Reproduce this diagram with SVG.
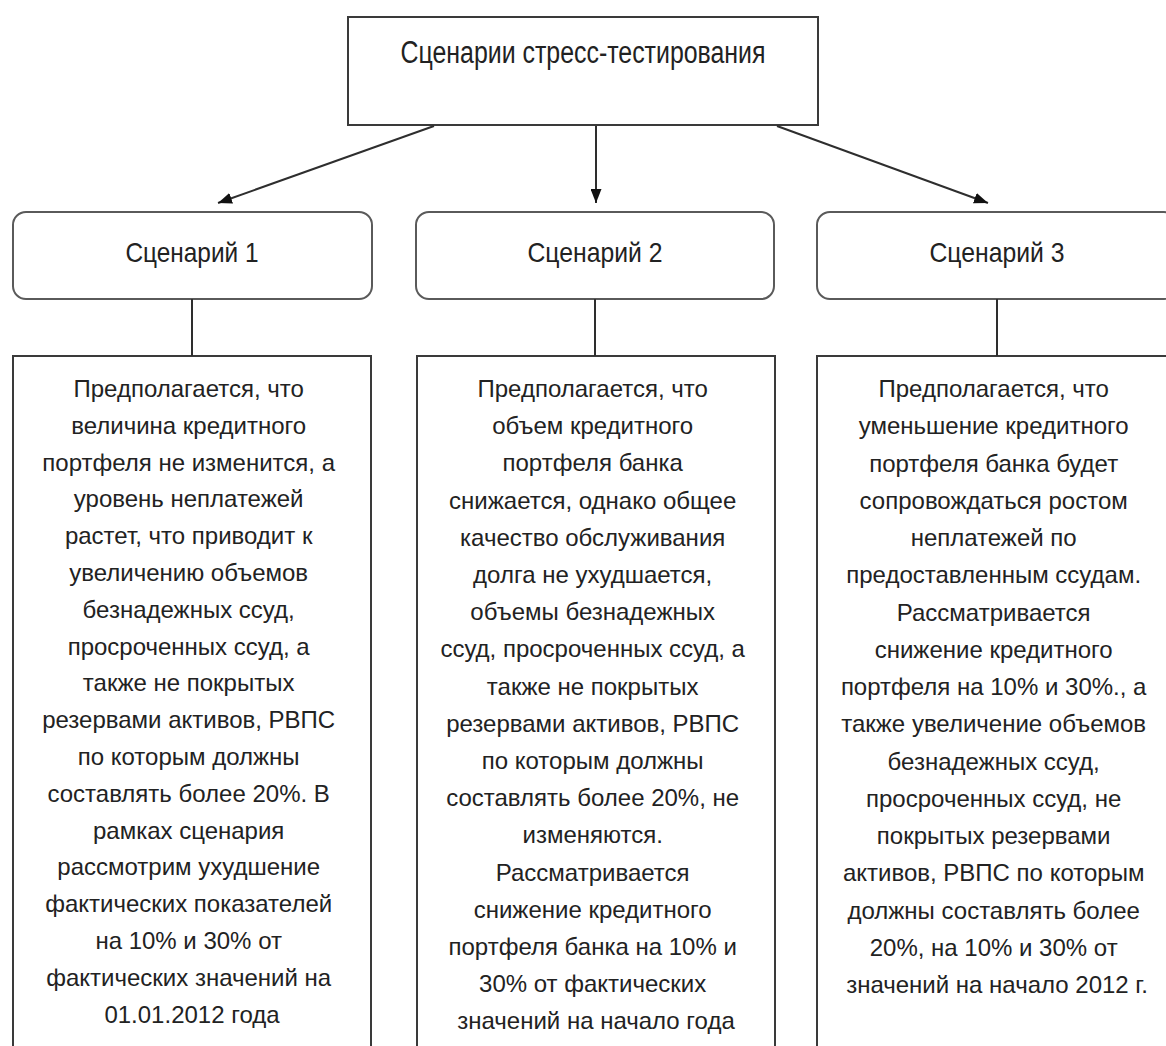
<svg xmlns="http://www.w3.org/2000/svg" width="1166" height="1046" viewBox="0 0 1166 1046">
<style>
.box{fill:#fff;stroke:#3a3a3a;stroke-width:2}
.hdr{fill:#fff;stroke:#5a5a5a;stroke-width:2}
.t{font-family:"Liberation Sans",Arial,sans-serif;fill:#222;text-anchor:middle}
.title{font-size:31px}
.h{font-size:28px}
.b{font-size:24px}
.conn{stroke:#2e2e2e;stroke-width:2;fill:none}
</style>
<defs>
<marker id="arr" viewBox="0 0 14 11" refX="14" refY="5.5" markerWidth="14" markerHeight="11" markerUnits="userSpaceOnUse" orient="auto">
<path d="M0,0 L14,5.5 L0,11 z" fill="#111"/>
</marker>
</defs>
<rect width="1166" height="1046" fill="#fff"/>
<g id="root">
<rect class="box" x="348" y="17" width="470" height="108"/>
<text class="t title" x="583" y="63" textLength="365" lengthAdjust="spacingAndGlyphs">Сценарии стресс-тестирования</text>
</g>
<g id="scen1">
<rect class="hdr" x="13" y="212" width="359" height="87" rx="13"/>
<text class="t h" x="192" y="262" textLength="133" lengthAdjust="spacingAndGlyphs">Сценарий 1</text>
</g>
<g id="scen2">
<rect class="hdr" x="416" y="212" width="358" height="87" rx="13"/>
<text class="t h" x="595" y="262" textLength="135" lengthAdjust="spacingAndGlyphs">Сценарий 2</text>
</g>
<g id="scen3">
<rect class="hdr" x="817" y="212" width="360" height="87" rx="13"/>
<text class="t h" x="997" y="262" textLength="135" lengthAdjust="spacingAndGlyphs">Сценарий 3</text>
</g>
<g id="desc1">
<rect class="box" x="13" y="356" width="358" height="720"/>
<text class="t b">
<tspan x="192" y="397">Предполагается, что</tspan>
<tspan x="192" y="433.8">величина кредитного</tspan>
<tspan x="192" y="470.6">портфеля не изменится, а</tspan>
<tspan x="192" y="507.4">уровень неплатежей</tspan>
<tspan x="192" y="544.2">растет, что приводит к</tspan>
<tspan x="192" y="581">увеличению объемов</tspan>
<tspan x="192" y="617.8">безнадежных ссуд,</tspan>
<tspan x="192" y="654.6">просроченных ссуд, а</tspan>
<tspan x="192" y="691.4">также не покрытых</tspan>
<tspan x="192" y="728.2">резервами активов, РВПС</tspan>
<tspan x="192" y="765">по которым должны</tspan>
<tspan x="192" y="801.8">составлять более 20%. В</tspan>
<tspan x="192" y="838.6">рамках сценария</tspan>
<tspan x="192" y="875.4">рассмотрим ухудшение</tspan>
<tspan x="192" y="912.2">фактических показателей</tspan>
<tspan x="192" y="949">на 10% и 30% от</tspan>
<tspan x="192" y="985.8">фактических значений на</tspan>
<tspan x="192" y="1022.6">01.01.2012 года</tspan>
</text>
</g>
<g id="desc2">
<rect class="box" x="417" y="356" width="358" height="720"/>
<text class="t b">
<tspan x="596" y="397">Предполагается, что</tspan>
<tspan x="596" y="434.2">объем кредитного</tspan>
<tspan x="596" y="471.4">портфеля банка</tspan>
<tspan x="596" y="508.6">снижается, однако общее</tspan>
<tspan x="596" y="545.8">качество обслуживания</tspan>
<tspan x="596" y="583">долга не ухудшается,</tspan>
<tspan x="596" y="620.2">объемы безнадежных</tspan>
<tspan x="596" y="657.4">ссуд, просроченных ссуд, а</tspan>
<tspan x="596" y="694.6">также не покрытых</tspan>
<tspan x="596" y="731.8">резервами активов, РВПС</tspan>
<tspan x="596" y="769">по которым должны</tspan>
<tspan x="596" y="806.2">составлять более 20%, не</tspan>
<tspan x="596" y="843.4">изменяются.</tspan>
<tspan x="596" y="880.6">Рассматривается</tspan>
<tspan x="596" y="917.8">снижение кредитного</tspan>
<tspan x="596" y="955">портфеля банка на 10% и</tspan>
<tspan x="596" y="992.2">30% от фактических</tspan>
<tspan x="596" y="1029.4">значений на начало года</tspan>
</text>
</g>
<g id="desc3">
<rect class="box" x="817" y="356" width="360" height="720"/>
<text class="t b">
<tspan x="997" y="397">Предполагается, что</tspan>
<tspan x="997" y="434.25">уменьшение кредитного</tspan>
<tspan x="997" y="471.5">портфеля банка будет</tspan>
<tspan x="997" y="508.75">сопровождаться ростом</tspan>
<tspan x="997" y="546">неплатежей по</tspan>
<tspan x="997" y="583.25">предоставленным ссудам.</tspan>
<tspan x="997" y="620.5">Рассматривается</tspan>
<tspan x="997" y="657.75">снижение кредитного</tspan>
<tspan x="997" y="695">портфеля на 10% и 30%., а</tspan>
<tspan x="997" y="732.25">также увеличение объемов</tspan>
<tspan x="997" y="769.5">безнадежных ссуд,</tspan>
<tspan x="997" y="806.75">просроченных ссуд, не</tspan>
<tspan x="997" y="844">покрытых резервами</tspan>
<tspan x="997" y="881.25">активов, РВПС по которым</tspan>
<tspan x="997" y="918.5">должны составлять более</tspan>
<tspan x="997" y="955.75">20%, на 10% и 30% от</tspan>
<tspan x="997" y="993">значений на начало 2012 г.</tspan>
</text>
</g>
<g id="connectors">
<line class="conn" x1="434" y1="126" x2="218" y2="203" marker-end="url(#arr)"/>
<line class="conn" x1="596" y1="126" x2="596" y2="203" marker-end="url(#arr)"/>
<line class="conn" x1="777" y1="126" x2="988" y2="203" marker-end="url(#arr)"/>
<line class="conn" x1="192" y1="299" x2="192" y2="356"/>
<line class="conn" x1="595" y1="299" x2="595" y2="356"/>
<line class="conn" x1="997" y1="299" x2="997" y2="356"/>
</g>
</svg>
